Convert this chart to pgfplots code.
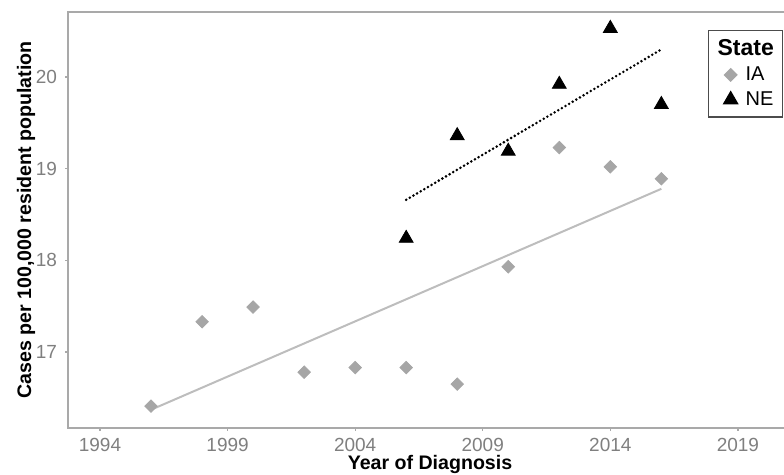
\documentclass[border=0pt]{standalone}
\usepackage{pgfplots}
\pgfplotsset{compat=1.18}
\usepackage{fontspec}
\setmainfont{Liberation Sans}
\definecolor{iagray}{HTML}{A6A6A6}
\definecolor{fitgray}{HTML}{BDBDBD}
\definecolor{framegray}{HTML}{A9A9A9}
\definecolor{ticklab}{HTML}{7F7F7F}
\begin{document}
\begin{tikzpicture}
\useasboundingbox (-34pt,-23.5pt) rectangle (358pt,214pt);
\begin{axis}[
  at={(0,0)}, anchor=south west,
  scale only axis, width=362pt, height=208pt,
  xmin=1992.746, xmax=2021.12, ymin=16.171, ymax=20.709,
  xtick={1994,1999,2004,2009,2014,2019},
  ytick={17,18,19,20},
  /pgf/number format/set thousands separator={},
  /pgf/number format/assume math mode=true,
  tick align=outside, major tick length=1.5pt,
  tick pos=left,
  tick style={framegray, line width=0.6pt},
  axis line style={framegray, line width=1pt},
  ticklabel style={font=\fontsize{9.5}{10}\selectfont, text=ticklab},
  yticklabel style={xshift=-0.5pt},
  xlabel={Year of Diagnosis},
  ylabel={Cases per 100,000 resident population},
  label style={font=\bfseries\fontsize{9.8}{11}\selectfont},
  xlabel style={at={(axis description cs:0.5,-0.088)}, anchor=center},
  ylabel style={at={(axis description cs:-0.0580,0.5)}, anchor=center},
  legend style={at={(axis description cs:0.884,0.957)}, anchor=north west,
    draw=black!70, line width=0.6pt, font=\fontsize{10}{11}\selectfont,
    inner sep=2.5pt, row sep=0pt, column sep=2pt},
  legend cell align=left,
]
\addlegendimage{empty legend}
\addlegendentry{\hspace*{-14pt}\fontsize{11.5}{13}\selectfont\bfseries State}
\addplot[only marks, mark=square*, mark size=2.2pt, mark options={rotate=45, fill=iagray, draw=iagray}]
  coordinates {(1996,16.41)(1998,17.33)(2000,17.49)(2002,16.78)(2004,16.83)(2006,16.83)(2008,16.65)(2010,17.93)(2012,19.23)(2014,19.02)(2016,18.89)};
\addlegendentry{IA}
\addplot[only marks, mark=triangle*, mark size=4pt, mark options={fill=black, draw=black}]
  coordinates {(2006,18.24)(2008,19.36)(2010,19.19)(2012,19.92)(2014,20.53)(2016,19.70)};
\addlegendentry{NE}
\addplot[forget plot, fitgray, line width=1pt] coordinates {(1996,16.37)(2016,18.78)};
\addplot[forget plot, black, line width=1.4pt, line cap=round, dash pattern=on 0pt off 2.1pt] coordinates {(2006,18.66)(2016,20.30)};
\end{axis}
\end{tikzpicture}
\end{document}
